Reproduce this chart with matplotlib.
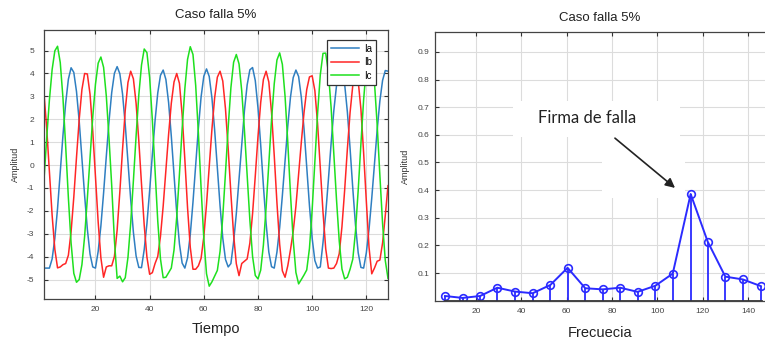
import numpy as np
import matplotlib
matplotlib.use('Agg')
import matplotlib.pyplot as plt
from matplotlib.patches import Rectangle

plt.rcParams['font.family'] = ['Liberation Sans', 'DejaVu Sans']
plt.rcParams['axes.unicode_minus'] = False

# corrientes de fase (muestras 1..128)
ia = [-4.5, -4.5, -4.5, -4.1, -3.2, -1.9, -0.3, 1.3, 2.7, 3.75,
      4.25, 4.05, 3.21, 1.91, 0.31, -1.33, -2.8, -3.89, -4.45, -4.5,
      -3.77, -2.66, -1.22, 0.38, 1.91, 3.17, 4.01, 4.3, 3.99, 3.1,
      1.76, 0.15, -1.49, -2.93, -3.97, -4.47, -4.48, -3.69, -2.56, -1.12,
      0.46, 1.94, 3.15, 3.92, 4.15, 3.74, 2.73, 1.26, -0.43, -2.09,
      -3.44, -4.28, -4.5, -4.05, -3.04, -1.62, 0.01, 1.62, 2.98, 3.88,
      4.2, 3.87, 2.93, 1.53, -0.13, -1.78, -3.19, -4.12, -4.45, -4.3,
      -3.36, -2.12, -0.62, 0.94, 2.38, 3.5, 4.16, 4.26, 3.69, 2.5,
      0.88, -0.9, -2.55, -3.8, -4.44, -4.5, -3.8, -2.73, -1.33, 0.22,
      1.71, 2.97, 3.82, 4.15, 3.87, 2.96, 1.58, -0.09, -1.77, -3.2,
      -4.17, -4.5, -4.45, -3.39, -2.13, -0.63, 0.95, 2.38, 3.48, 4.1,
      4.15, 3.53, 2.32, 0.72, -1.02, -2.62, -3.83, -4.47, -4.5, -3.83,
      -2.8, -1.45, 0.05, 1.53, 2.8, 3.7, 4.13, 4.1]
ib = [3.13, 1.6, -0.3, -2.19, -3.68, -4.49, -4.45, -4.35, -4.3, -3.94,
      -2.91, -1.4, 0.34, 2.0, 3.3, 4.0, 3.98, 3.09, 1.48, -0.51,
      -2.49, -4.05, -4.9, -4.45, -4.4, -4.4, -3.99, -2.84, -1.17, 0.69,
      2.4, 3.61, 4.1, 3.77, 2.7, 1.06, -0.83, -2.63, -4.02, -4.77,
      -4.7, -4.3, -3.99, -3.11, -1.79, -0.23, 1.34, 2.7, 3.63, 4.0,
      3.57, 2.2, 0.24, -1.87, -3.59, -4.55, -4.55, -4.4, -4.07, -3.13,
      -1.71, -0.07, 1.57, 2.94, 3.84, 4.1, 3.67, 2.46, 0.71, -1.25,
      -3.04, -4.31, -4.83, -4.3, -4.2, -4.1, -3.41, -2.12, -0.48, 1.24,
      2.73, 3.74, 4.1, 3.63, 2.3, 0.42, -1.65, -3.46, -4.62, -4.9,
      -4.4, -3.7, -2.9, -1.8, -0.4, 1.0, 2.3, 3.3, 3.85, 3.9,
      3.25, 1.81, -0.1, -2.05, -3.65, -4.5, -4.52, -4.5, -4.3, -3.87,
      -2.69, -1.09, 0.7, 2.3, 3.48, 3.98, 3.67, 2.44, 0.54, -1.58,
      -3.6, -4.75, -4.5, -4.2, -4.15, -3.4, -2.2, -0.9]
ic = [-0.63, 1.19, 2.85, 4.17, 4.99, 5.19, 4.48, 2.93, 0.83, -1.43,
      -3.4, -4.73, -5.12, -5.0, -4.35, -3.11, -1.46, 0.36, 2.11, 3.53,
      4.45, 4.72, 4.27, 3.02, 1.17, -0.9, -3.3, -4.95, -4.85, -5.1,
      -4.92, -4.03, -2.55, -0.69, 1.27, 3.06, 4.37, 5.07, 4.91, 3.82,
      1.97, -0.28, -2.45, -4.1, -4.92, -4.9, -4.7, -4.5, -3.71, -2.27,
      -0.4, 1.58, 3.34, 4.62, 5.17, 4.83, 3.48, 1.39, -1.01, -3.21,
      -4.75, -5.29, -5.1, -4.85, -4.6, -3.77, -2.26, -0.34, 1.66, 3.38,
      4.49, 4.83, 4.42, 3.24, 1.52, -0.47, -2.4, -3.99, -4.82, -4.97,
      -4.59, -3.49, -1.85, 0.06, 1.97, 3.55, 4.59, 4.9, 4.4, 3.0,
      0.99, -1.27, -3.28, -4.69, -5.19, -5.0, -4.8, -4.58, -3.64, -1.95,
      0.15, 2.25, 3.94, 4.88, 4.89, 4.05, 2.51, 0.53, -1.53, -3.32,
      -4.54, -4.97, -4.9, -4.55, -4.11, -2.89, -1.09, 0.93, 2.85, 4.28,
      4.96, 4.76, 3.62, 1.76, -0.45, -2.56, -4.17, -4.95]
tiempo = np.arange(1, len(ia) + 1)

# espectro
frecuencia = [6.3, 14.1, 21.8, 29.4, 37.2, 45.0, 52.8, 60.4, 68.2, 75.9,
              83.6, 91.3, 99.1, 106.8, 114.7, 122.2, 130.0, 137.7, 145.6]
amplitud = [0.017, 0.010, 0.017, 0.047, 0.033, 0.027, 0.057, 0.119, 0.045, 0.041,
            0.047, 0.032, 0.054, 0.098, 0.386, 0.214, 0.087, 0.077, 0.053]

fig = plt.figure(figsize=(7.65, 3.39), dpi=100)
ax1 = fig.add_axes([44 / 765, 1 - 299 / 339, 344 / 765, 269 / 339])
ax2 = fig.add_axes([435 / 765, 1 - 300.7 / 339, 337.7 / 765, 268.7 / 339])

for ax in (ax1, ax2):
    ax.set_axisbelow(True)
    ax.grid(True, color='#dcdcdc', lw=0.8)
    ax.tick_params(direction='in', top=True, right=True, length=3, width=0.8,
                   labelsize=6, labelcolor='#444', color='#333')
    for s in ax.spines.values():
        s.set_color('#444')
        s.set_linewidth(0.9)

# --- izquierda: señales en el tiempo
ax1.plot(tiempo, ia, color='#2f7fc1', lw=1.1, label='Ia')
ax1.plot(tiempo, ib, color='#ff2626', lw=1.1, label='Ib')
ax1.plot(tiempo, ic, color='#1ee01e', lw=1.1, label='Ic')
ax1.set_xlim(1, 128)
ax1.set_ylim(-5.85, 5.9)
ax1.set_xticks([20, 40, 60, 80, 100, 120])
ax1.set_yticks(range(-5, 6))
ax1.tick_params(axis='y', pad=7)
ax1.tick_params(axis='x', pad=5)
ax1.text(0.5, 1 + 15 / 269, 'Caso falla 5%', transform=ax1.transAxes,
         ha='center', va='center', fontsize=9.5, color='#222')
ax1.set_xlabel('Tiempo', fontsize=10.5, color='#222', va='center')
ax1.xaxis.set_label_coords(0.5, -30 / 269)
ax1.set_ylabel('Amplitud', fontsize=6.5, color='#333', va='center')
ax1.yaxis.set_label_coords(-29 / 344, 0.5)
leg = ax1.legend(loc='upper right', bbox_to_anchor=(0.965, 0.963), borderaxespad=0,
                 fontsize=7, handlelength=2.9, labelspacing=0.35, fancybox=False,
                 framealpha=1, edgecolor='#333', borderpad=0.4, handletextpad=0.5)
leg.get_frame().set_linewidth(0.9)
for t in leg.get_texts():
    t.set_ha('right')

# --- derecha: espectro
azul = '#2b2bff'
markerline, stemlines, baseline = ax2.stem(frecuencia, amplitud)
markerline.set_color(azul)
markerline.set_markerfacecolor('none')
markerline.set_markersize(5.5)
markerline.set_markeredgewidth(1.2)
stemlines.set_color(azul)
stemlines.set_linewidth(1.3)
baseline.set_color('#333')
baseline.set_linewidth(2)
ax2.plot(frecuencia, amplitud, color=azul, lw=1.4)
ax2.set_xlim(1.9, 150.9)
ax2.set_ylim(0.0, 0.972)
ax2.set_xticks([20, 40, 60, 80, 100, 120, 140])
ax2.set_yticks([0.1, 0.2, 0.3, 0.4, 0.5, 0.6, 0.7, 0.8, 0.9])
ax2.tick_params(axis='y', pad=4)
ax2.tick_params(axis='x', pad=5)
ax2.spines['right'].set_visible(False)
ax2.text(0.489, 1 + 14 / 268.7, 'Caso falla 5%', transform=ax2.transAxes,
         ha='center', va='center', fontsize=9.5, color='#222')
ax2.set_xlabel('Frecuecia', fontsize=10.5, color='#222', va='center')
ax2.xaxis.set_label_coords(0.489, -32 / 268.7)
ax2.set_ylabel('Amplitud', fontsize=6.5, color='#333', va='center')
ax2.yaxis.set_label_coords(-30 / 337.7, 0.5)

# recuadro blanco de la anotación
ax2.add_patch(Rectangle((36.3, 0.593), 110 - 36.3, 0.723 - 0.593,
                        fc='white', ec='none', zorder=1.5))
ax2.add_patch(Rectangle((75.6, 0.373), 112.2 - 75.6, 0.593 - 0.373,
                        fc='white', ec='none', zorder=1.5))
ax2.text(69, 0.662, 'Firma de falla', ha='center', va='center', fontsize=12,
         family=['Lato', 'DejaVu Sans'], color='#222', zorder=3)
ax2.annotate('', xy=(107.8, 0.408), xytext=(81.3, 0.588), zorder=3,
             arrowprops=dict(arrowstyle='-|>', color='#222', lw=1.2,
                             mutation_scale=14, shrinkA=0, shrinkB=0))

plt.savefig('out.png', dpi=100)
